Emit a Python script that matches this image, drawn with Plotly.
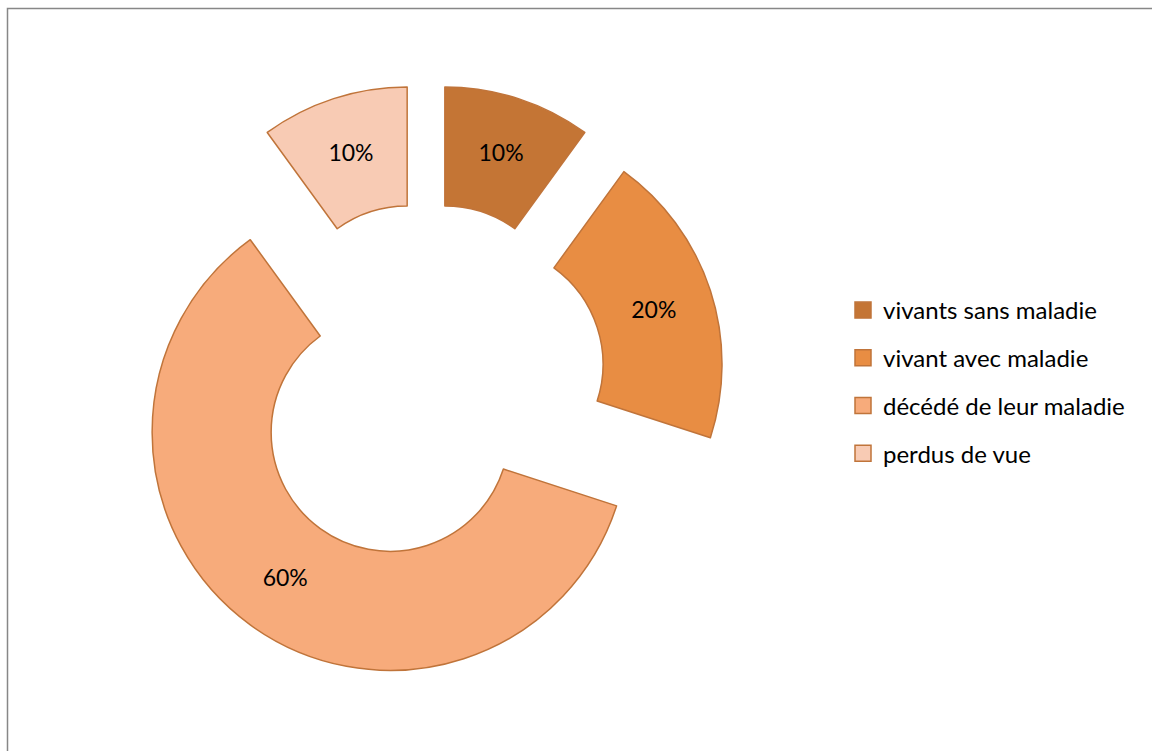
import plotly.graph_objects as go

# Répartition des patients selon leur devenir
categories = ["vivants sans maladie", "vivant avec maladie", "décédé de leur maladie", "perdus de vue"]
values = [10, 20, 60, 10]
colors = ["#C47535", "#E88D43", "#F7AB7B", "#F8CBB4"]
edge_color = "#C0743A"
font_family = "Lato, 'Open Sans', sans-serif"

W, H = 1152, 751

fig = go.Figure()

fig.add_trace(go.Pie(
    labels=categories,
    values=values,
    sort=False,
    direction="clockwise",
    rotation=0,
    hole=0.5,
    pull=[0.256] * len(values),
    marker=dict(colors=colors, line=dict(color=edge_color, width=1.5)),
    textinfo="percent",
    texttemplate="%{percent:.0%}",
    textposition="inside",
    insidetextorientation="horizontal",
    textfont=dict(family=font_family, size=23, color="#000000"),
    showlegend=False,
    domain=dict(x=[127 / W, 725 / W], y=[1 - 682 / H, 1 - 84 / H]),
))

# Legend entries, one group per category so the spacing can be widened
for name, col in zip(categories, colors):
    fig.add_trace(go.Scatter(
        x=[None], y=[None], mode="markers", name=name,
        legendgroup=name,
        marker=dict(symbol="square", size=16, color=col,
                    line=dict(color=edge_color, width=1.5)),
    ))

fig.update_layout(
    width=W, height=H,
    margin=dict(l=0, r=0, t=0, b=0),
    paper_bgcolor="white",
    plot_bgcolor="white",
    xaxis=dict(visible=False),
    yaxis=dict(visible=False),
    showlegend=True,
    legend=dict(
        x=843 / W, y=1 - 288 / H, xanchor="left", yanchor="top",
        font=dict(family=font_family, size=24, color="#000000"),
        tracegroupgap=13.5,
        itemwidth=30,
        bgcolor="rgba(0,0,0,0)",
    ),
    shapes=[dict(
        type="rect", xref="paper", yref="paper",
        x0=7.5 / W, x1=1.02, y0=-0.02, y1=1 - 8.5 / H,
        line=dict(color="#878787", width=1.5),
        fillcolor="rgba(0,0,0,0)", layer="above",
    )],
)

fig.write_html("out.html")
